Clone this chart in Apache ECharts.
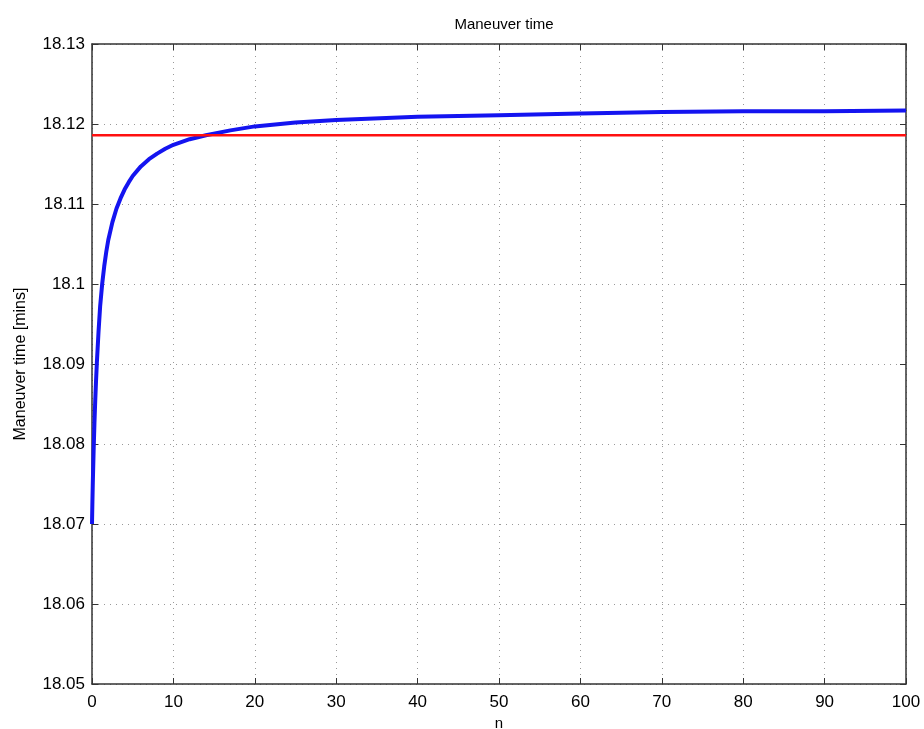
<!DOCTYPE html>
<html>
<head>
<meta charset="utf-8">
<script src="https://cdn.jsdelivr.net/npm/echarts@6/dist/echarts.min.js"></script>
<style>
  html, body { margin: 0; padding: 0; background: #fff; }
  #chart { width: 924px; height: 729px; }
</style>
</head>
<body>
<div id="chart"></div>
<script>
// Maneuver time as a function of n, with the limiting reference time
const nValues = [0, 0.05, 0.1, 0.2, 0.3, 0.4, 0.5, 0.6, 0.8, 1, 1.25, 1.5, 1.75, 2, 2.5, 3, 3.5, 4, 4.5, 5, 6, 7, 8, 9, 10, 12, 14, 17, 20, 25, 30, 40, 50, 60, 70, 80, 90, 100];
const maneuverTime = [18.0700, 18.0728, 18.0752, 18.0792, 18.0826, 18.0855, 18.0880, 18.0902, 18.0940, 18.0972, 18.1000, 18.1022, 18.1040, 18.1055, 18.1077, 18.1094, 18.1107, 18.1118, 18.1127, 18.1135, 18.1147, 18.1156, 18.1163, 18.1169, 18.1174, 18.1181, 18.1186, 18.1192, 18.1197, 18.1202, 18.1205, 18.1209, 18.1211, 18.1213, 18.1215, 18.1216, 18.1216, 18.1217];
const referenceN = [0, 100];
const referenceTime = [18.1186, 18.1186];

const curve = nValues.map((n, i) => [n, maneuverTime[i]]);
const reference = referenceN.map((n, i) => [n, referenceTime[i]]);

const font = 'Liberation Sans, Arial, Helvetica, sans-serif';
const frame = '#333';
const gridLine = { show: true, lineStyle: { color: '#999', type: [1, 5], width: 1 } };

const chart = echarts.init(document.getElementById('chart'), null, { renderer: 'canvas' });
chart.setOption({
  animation: false,
  backgroundColor: '#fff',
  title: {
    text: 'Maneuver time',
    left: 499, top: 12, textAlign: 'center',
    textStyle: { fontFamily: font, fontSize: 15, fontWeight: 'normal', color: '#000' }
  },
  grid: { left: 92, right: 18, top: 44, bottom: 45, containLabel: false, outerBoundsMode: 'none' },
  xAxis: [{
    type: 'value', min: 0, max: 100, interval: 10,
    name: 'n', nameLocation: 'middle', nameGap: 19,
    nameTextStyle: { fontFamily: font, fontSize: 15, color: '#000' },
    axisLine: { show: true, onZero: false, lineStyle: { color: frame, width: 1.5 } },
    axisTick: { show: true, inside: true, length: 6, lineStyle: { color: frame } },
    axisLabel: { fontFamily: font, fontSize: 17, color: '#000', margin: 10 },
    splitLine: gridLine
  }, {
    type: 'value', min: 0, max: 100, interval: 10, position: 'top',
    axisLine: { show: true, onZero: false, lineStyle: { color: frame, width: 1.5 } },
    axisTick: { show: true, inside: true, length: 6, lineStyle: { color: frame } },
    axisLabel: { show: false }, splitLine: { show: false }
  }],
  yAxis: [{
    type: 'value', min: 18.05, max: 18.13, interval: 0.01,
    name: 'Maneuver time [mins]', nameLocation: 'middle', nameGap: 63,
    nameTextStyle: { fontFamily: font, fontSize: 16, color: '#000' },
    axisLine: { show: true, onZero: false, lineStyle: { color: frame, width: 1.5 } },
    axisTick: { show: true, inside: true, length: 6, lineStyle: { color: frame } },
    axisLabel: {
      fontFamily: font, fontSize: 17, color: '#000', margin: 7,
      formatter: v => String(parseFloat(v.toFixed(2)))
    },
    splitLine: gridLine
  }, {
    type: 'value', min: 18.05, max: 18.13, interval: 0.01, position: 'right',
    axisLine: { show: true, onZero: false, lineStyle: { color: frame, width: 1.5 } },
    axisTick: { show: true, inside: true, length: 6, lineStyle: { color: frame } },
    axisLabel: { show: false }, splitLine: { show: false }
  }],
  series: [{
    type: 'line', data: curve, xAxisIndex: 0, yAxisIndex: 0,
    smooth: false, showSymbol: false,
    lineStyle: { color: '#1414f0', width: 4, join: 'round' }, z: 3
  }, {
    type: 'line', data: reference, xAxisIndex: 0, yAxisIndex: 0,
    showSymbol: false,
    lineStyle: { color: '#ff1010', width: 2.5 }, z: 4
  }]
});
</script>
</body>
</html>
